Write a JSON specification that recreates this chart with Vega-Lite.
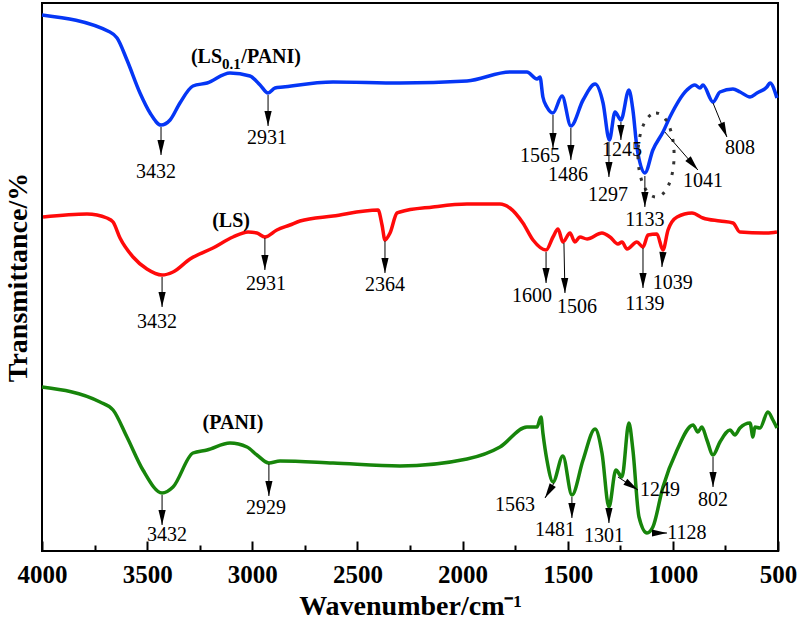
{
  "$schema": "https://vega.github.io/schema/vega-lite/v6.json",
  "width": 736,
  "height": 548,
  "autosize": "none",
  "padding": {"left": 42, "top": 3, "right": 21, "bottom": 68},
  "background": "white",
  "config": {
    "font": "Liberation Serif",
    "view": {"stroke": "#000", "strokeWidth": 2}
  },
  "datasets": {
    "spectra": [
      {"s": "LS0.1/PANI", "wn": 4000, "t": 536}, {"s": "LS0.1/PANI", "wn": 3677, "t": 519}, {"s": "LS0.1/PANI", "wn": 3643, "t": 513},
      {"s": "LS0.1/PANI", "wn": 3596, "t": 491}, {"s": "LS0.1/PANI", "wn": 3534, "t": 458}, {"s": "LS0.1/PANI", "wn": 3486, "t": 438},
      {"s": "LS0.1/PANI", "wn": 3434, "t": 426}, {"s": "LS0.1/PANI", "wn": 3391, "t": 431}, {"s": "LS0.1/PANI", "wn": 3344, "t": 448},
      {"s": "LS0.1/PANI", "wn": 3282, "t": 465}, {"s": "LS0.1/PANI", "wn": 3215, "t": 468}, {"s": "LS0.1/PANI", "wn": 3106, "t": 478},
      {"s": "LS0.1/PANI", "wn": 3011, "t": 475}, {"s": "LS0.1/PANI", "wn": 2963, "t": 466}, {"s": "LS0.1/PANI", "wn": 2925, "t": 458},
      {"s": "LS0.1/PANI", "wn": 2892, "t": 463}, {"s": "LS0.1/PANI", "wn": 2854, "t": 464}, {"s": "LS0.1/PANI", "wn": 2616, "t": 469},
      {"s": "LS0.1/PANI", "wn": 2298, "t": 468}, {"s": "LS0.1/PANI", "wn": 1979, "t": 470}, {"s": "LS0.1/PANI", "wn": 1775, "t": 479},
      {"s": "LS0.1/PANI", "wn": 1694, "t": 479}, {"s": "LS0.1/PANI", "wn": 1646, "t": 472}, {"s": "LS0.1/PANI", "wn": 1632, "t": 474},
      {"s": "LS0.1/PANI", "wn": 1618, "t": 454}, {"s": "LS0.1/PANI", "wn": 1599, "t": 444}, {"s": "LS0.1/PANI", "wn": 1570, "t": 438},
      {"s": "LS0.1/PANI", "wn": 1527, "t": 455}, {"s": "LS0.1/PANI", "wn": 1485, "t": 425}, {"s": "LS0.1/PANI", "wn": 1427, "t": 451},
      {"s": "LS0.1/PANI", "wn": 1370, "t": 467}, {"s": "LS0.1/PANI", "wn": 1332, "t": 448}, {"s": "LS0.1/PANI", "wn": 1302, "t": 411},
      {"s": "LS0.1/PANI", "wn": 1275, "t": 439}, {"s": "LS0.1/PANI", "wn": 1247, "t": 431}, {"s": "LS0.1/PANI", "wn": 1209, "t": 461},
      {"s": "LS0.1/PANI", "wn": 1190, "t": 441}, {"s": "LS0.1/PANI", "wn": 1171, "t": 404}, {"s": "LS0.1/PANI", "wn": 1133, "t": 378},
      {"s": "LS0.1/PANI", "wn": 1095, "t": 401}, {"s": "LS0.1/PANI", "wn": 1047, "t": 419}, {"s": "LS0.1/PANI", "wn": 1014, "t": 434},
      {"s": "LS0.1/PANI", "wn": 933, "t": 461}, {"s": "LS0.1/PANI", "wn": 895, "t": 466}, {"s": "LS0.1/PANI", "wn": 871, "t": 463},
      {"s": "LS0.1/PANI", "wn": 857, "t": 466}, {"s": "LS0.1/PANI", "wn": 809, "t": 449}, {"s": "LS0.1/PANI", "wn": 776, "t": 459},
      {"s": "LS0.1/PANI", "wn": 714, "t": 462}, {"s": "LS0.1/PANI", "wn": 680, "t": 459}, {"s": "LS0.1/PANI", "wn": 633, "t": 454},
      {"s": "LS0.1/PANI", "wn": 600, "t": 458}, {"s": "LS0.1/PANI", "wn": 553, "t": 464}, {"s": "LS0.1/PANI", "wn": 538, "t": 468},
      {"s": "LS0.1/PANI", "wn": 505, "t": 453},

      {"s": "LS", "wn": 3995, "t": 334}, {"s": "LS", "wn": 3786, "t": 337}, {"s": "LS", "wn": 3691, "t": 333},
      {"s": "LS", "wn": 3662, "t": 329}, {"s": "LS", "wn": 3629, "t": 313}, {"s": "LS", "wn": 3567, "t": 294},
      {"s": "LS", "wn": 3501, "t": 282}, {"s": "LS", "wn": 3429, "t": 276}, {"s": "LS", "wn": 3377, "t": 279},
      {"s": "LS", "wn": 3296, "t": 292}, {"s": "LS", "wn": 3187, "t": 303}, {"s": "LS", "wn": 3092, "t": 314},
      {"s": "LS", "wn": 3020, "t": 319}, {"s": "LS", "wn": 2978, "t": 318}, {"s": "LS", "wn": 2940, "t": 314},
      {"s": "LS", "wn": 2883, "t": 321}, {"s": "LS", "wn": 2821, "t": 326}, {"s": "LS", "wn": 2773, "t": 330},
      {"s": "LS", "wn": 2616, "t": 335}, {"s": "LS", "wn": 2402, "t": 341}, {"s": "LS", "wn": 2383, "t": 326},
      {"s": "LS", "wn": 2369, "t": 311}, {"s": "LS", "wn": 2345, "t": 318}, {"s": "LS", "wn": 2312, "t": 338},
      {"s": "LS", "wn": 2298, "t": 339}, {"s": "LS", "wn": 2141, "t": 344}, {"s": "LS", "wn": 1979, "t": 347},
      {"s": "LS", "wn": 1822, "t": 347}, {"s": "LS", "wn": 1775, "t": 343}, {"s": "LS", "wn": 1713, "t": 328},
      {"s": "LS", "wn": 1665, "t": 311}, {"s": "LS", "wn": 1603, "t": 301}, {"s": "LS", "wn": 1570, "t": 314},
      {"s": "LS", "wn": 1546, "t": 322}, {"s": "LS", "wn": 1523, "t": 309}, {"s": "LS", "wn": 1489, "t": 318},
      {"s": "LS", "wn": 1466, "t": 309}, {"s": "LS", "wn": 1442, "t": 314}, {"s": "LS", "wn": 1408, "t": 312},
      {"s": "LS", "wn": 1337, "t": 318}, {"s": "LS", "wn": 1299, "t": 314}, {"s": "LS", "wn": 1261, "t": 307},
      {"s": "LS", "wn": 1242, "t": 309}, {"s": "LS", "wn": 1218, "t": 302}, {"s": "LS", "wn": 1171, "t": 309},
      {"s": "LS", "wn": 1142, "t": 304}, {"s": "LS", "wn": 1118, "t": 316}, {"s": "LS", "wn": 1076, "t": 317},
      {"s": "LS", "wn": 1047, "t": 301}, {"s": "LS", "wn": 1023, "t": 321}, {"s": "LS", "wn": 980, "t": 334},
      {"s": "LS", "wn": 909, "t": 338}, {"s": "LS", "wn": 857, "t": 333}, {"s": "LS", "wn": 776, "t": 330},
      {"s": "LS", "wn": 714, "t": 328}, {"s": "LS", "wn": 681, "t": 319}, {"s": "LS", "wn": 553, "t": 318},
      {"s": "LS", "wn": 505, "t": 319},

      {"s": "PANI", "wn": 4000, "t": 164}, {"s": "PANI", "wn": 3724, "t": 149}, {"s": "PANI", "wn": 3662, "t": 141},
      {"s": "PANI", "wn": 3596, "t": 114}, {"s": "PANI", "wn": 3520, "t": 81}, {"s": "PANI", "wn": 3429, "t": 58},
      {"s": "PANI", "wn": 3377, "t": 64}, {"s": "PANI", "wn": 3282, "t": 98}, {"s": "PANI", "wn": 3215, "t": 101},
      {"s": "PANI", "wn": 3106, "t": 108}, {"s": "PANI", "wn": 3025, "t": 104}, {"s": "PANI", "wn": 2978, "t": 96},
      {"s": "PANI", "wn": 2921, "t": 88}, {"s": "PANI", "wn": 2868, "t": 90}, {"s": "PANI", "wn": 2616, "t": 88},
      {"s": "PANI", "wn": 2298, "t": 85}, {"s": "PANI", "wn": 1979, "t": 92}, {"s": "PANI", "wn": 1822, "t": 104},
      {"s": "PANI", "wn": 1694, "t": 124}, {"s": "PANI", "wn": 1646, "t": 124}, {"s": "PANI", "wn": 1627, "t": 134},
      {"s": "PANI", "wn": 1618, "t": 118}, {"s": "PANI", "wn": 1599, "t": 91}, {"s": "PANI", "wn": 1570, "t": 69},
      {"s": "PANI", "wn": 1523, "t": 95}, {"s": "PANI", "wn": 1480, "t": 56}, {"s": "PANI", "wn": 1427, "t": 91},
      {"s": "PANI", "wn": 1370, "t": 122}, {"s": "PANI", "wn": 1337, "t": 98}, {"s": "PANI", "wn": 1304, "t": 44},
      {"s": "PANI", "wn": 1271, "t": 81}, {"s": "PANI", "wn": 1242, "t": 74}, {"s": "PANI", "wn": 1209, "t": 128},
      {"s": "PANI", "wn": 1190, "t": 101}, {"s": "PANI", "wn": 1161, "t": 34}, {"s": "PANI", "wn": 1123, "t": 18},
      {"s": "PANI", "wn": 1095, "t": 24}, {"s": "PANI", "wn": 1047, "t": 64}, {"s": "PANI", "wn": 980, "t": 101},
      {"s": "PANI", "wn": 904, "t": 126}, {"s": "PANI", "wn": 881, "t": 119}, {"s": "PANI", "wn": 862, "t": 124},
      {"s": "PANI", "wn": 838, "t": 111}, {"s": "PANI", "wn": 809, "t": 96}, {"s": "PANI", "wn": 776, "t": 109},
      {"s": "PANI", "wn": 728, "t": 121}, {"s": "PANI", "wn": 705, "t": 116}, {"s": "PANI", "wn": 681, "t": 123},
      {"s": "PANI", "wn": 633, "t": 128}, {"s": "PANI", "wn": 619, "t": 114}, {"s": "PANI", "wn": 610, "t": 124},
      {"s": "PANI", "wn": 586, "t": 123}, {"s": "PANI", "wn": 548, "t": 139}, {"s": "PANI", "wn": 524, "t": 131},
      {"s": "PANI", "wn": 505, "t": 123}
    ],
    "arrows": [
      {"label": "3432", "wn1": 3434, "t1": 424, "wn2": 3434, "t2": 396, "lwn": 3458, "lt": 379},
      {"label": "2931", "wn1": 2925, "t1": 456, "wn2": 2925, "t2": 425, "lwn": 2930, "lt": 413},
      {"label": "1565", "wn1": 1570, "t1": 436, "wn2": 1570, "t2": 403, "lwn": 1632, "lt": 395},
      {"label": "1486", "wn1": 1485, "t1": 423, "wn2": 1485, "t2": 391, "lwn": 1499, "lt": 376},
      {"label": "1297", "wn1": 1304, "t1": 409, "wn2": 1304, "t2": 374, "lwn": 1309, "lt": 356},
      {"label": "1245", "wn1": 1247, "t1": 429, "wn2": 1247, "t2": 411, "lwn": 1242, "lt": 401},
      {"label": "1133", "wn1": 1133, "t1": 375, "wn2": 1133, "t2": 344, "lwn": 1133, "lt": 331},
      {"label": "1041", "wn1": 1038, "t1": 419, "wn2": 881, "t2": 381, "lwn": 857, "lt": 370},
      {"label": "808", "wn1": 809, "t1": 448, "wn2": 743, "t2": 414, "lwn": 681, "lt": 403},
      {"label": "3432", "wn1": 3429, "t1": 274, "wn2": 3429, "t2": 244, "lwn": 3453, "lt": 229},
      {"label": "2931", "wn1": 2940, "t1": 313, "wn2": 2940, "t2": 281, "lwn": 2935, "lt": 267},
      {"label": "2364", "wn1": 2369, "t1": 310, "wn2": 2369, "t2": 278, "lwn": 2369, "lt": 266},
      {"label": "1600", "wn1": 1603, "t1": 299, "wn2": 1603, "t2": 268, "lwn": 1670, "lt": 255},
      {"label": "1506", "wn1": 1518, "t1": 308, "wn2": 1513, "t2": 258, "lwn": 1456, "lt": 244},
      {"label": "1139", "wn1": 1142, "t1": 303, "wn2": 1142, "t2": 263, "lwn": 1133, "lt": 247},
      {"label": "1039", "wn1": 1047, "t1": 299, "wn2": 1052, "t2": 284, "lwn": 1000, "lt": 268},
      {"label": "3432", "wn1": 3429, "t1": 56, "wn2": 3429, "t2": 26, "lwn": 3406, "lt": 16},
      {"label": "2929", "wn1": 2921, "t1": 87, "wn2": 2921, "t2": 55, "lwn": 2935, "lt": 43},
      {"label": "1563", "wn1": 1565, "t1": 68, "wn2": 1608, "t2": 53, "lwn": 1751, "lt": 46},
      {"label": "1481", "wn1": 1480, "t1": 54, "wn2": 1480, "t2": 33, "lwn": 1561, "lt": 21},
      {"label": "1301", "wn1": 1304, "t1": 43, "wn2": 1304, "t2": 28, "lwn": 1328, "lt": 15},
      {"label": "1249", "wn1": 1261, "t1": 74, "wn2": 1166, "t2": 61, "lwn": 1061, "lt": 61},
      {"label": "1128", "wn1": 1095, "t1": 18, "wn2": 1028, "t2": 18, "lwn": 933, "lt": 18},
      {"label": "802", "wn1": 809, "t1": 94, "wn2": 809, "t2": 64, "lwn": 809, "lt": 51}
    ],
    "names": [
      {"text": "(LS", "wn": 3144, "t": 494, "part": "a"},
      {"text": "0.1", "wn": 3144, "t": 487, "part": "sub"},
      {"text": "/PANI)", "wn": 3052, "t": 494, "part": "b"},
      {"text": "(LS)", "wn": 3101, "t": 330, "part": "c"},
      {"text": "(PANI)", "wn": 3092, "t": 128, "part": "c"}
    ],
    "ellipse": [{"wn": 1080, "t": 396}]
  },
  "encoding": {
    "x": {
      "field": "wn", "type": "quantitative",
      "scale": {"domain": [500, 4000], "reverse": true, "nice": false, "zero": false},
      "axis": {
        "title": "Wavenumber/cm⁻¹",
        "values": [4000, 3750, 3500, 3250, 3000, 2750, 2500, 2250, 2000, 1750, 1500, 1250, 1000, 750, 500],
        "format": "d",
        "labelExpr": "datum.value % 500 === 0 ? datum.label : ''",
        "grid": false, "domain": false,
        "tickSize": {"condition": {"test": "datum.value % 500 === 0", "value": -10}, "value": -6},
        "tickWidth": 2, "tickColor": "#000",
        "labelPadding": 21, "labelFontSize": 25, "labelFontWeight": "bold", "labelColor": "#000",
        "labelFont": "Liberation Serif", "labelOverlap": false, "labelFlush": false,
        "titleFontSize": 28, "titleFontWeight": "bold", "titleColor": "#000", "titleFont": "Liberation Serif",
        "titlePadding": 1
      }
    },
    "y": {
      "field": "t", "type": "quantitative",
      "scale": {"domain": [0, 548], "nice": false, "zero": false},
      "axis": {
        "title": "Transmittance/%",
        "grid": false, "domain": false, "ticks": false, "labels": false,
        "titleFontSize": 28, "titleFontWeight": "bold", "titleColor": "#000", "titleFont": "Liberation Serif",
        "titlePadding": 10
      }
    }
  },
  "layer": [
    {
      "data": {"name": "spectra"},
      "mark": {"type": "line", "strokeWidth": 3.5, "interpolate": "monotone"},
      "encoding": {
        "color": {
          "field": "s", "type": "nominal", "legend": null,
          "scale": {"domain": ["LS0.1/PANI", "LS", "PANI"], "range": ["#0536f5", "#ff0a0a", "#17850b"]}
        }
      }
    },
    {
      "data": {"name": "ellipse"},
      "mark": {
        "type": "point", "filled": false, "fill": null, "stroke": "#333", "strokeWidth": 3,
        "strokeDash": [3, 8], "opacity": 1, "size": 7056,
        "shape": "M0,-1 C0.2375,-1 0.43,-0.5523 0.43,0 C0.43,0.5523 0.2375,1 0,1 C-0.2375,1 -0.43,0.5523 -0.43,0 C-0.43,-0.5523 -0.2375,-1 0,-1 Z"
      },
      "encoding": {}
    },
    {
      "data": {"name": "arrows"},
      "mark": {"type": "rule", "color": "#000", "strokeWidth": 1},
      "encoding": {
        "x": {"field": "wn1", "type": "quantitative"},
        "x2": {"field": "wn2"},
        "y": {"field": "t1", "type": "quantitative"},
        "y2": {"field": "t2"}
      }
    },
    {
      "data": {"name": "arrows"},
      "transform": [
        {"calculate": "(atan2((datum.wn2 - datum.wn1) * 736 / 3500, datum.t1 - datum.t2) * 180 / PI + 360) % 360", "as": "ang"}
      ],
      "mark": {
        "type": "point", "filled": true, "color": "#000", "opacity": 1, "size": 900,
        "shape": "M0,0 L0.24,-1 L-0.24,-1 Z", "strokeWidth": 0
      },
      "encoding": {
        "x": {"field": "wn2", "type": "quantitative"},
        "y": {"field": "t2", "type": "quantitative"},
        "angle": {"field": "ang", "type": "quantitative", "scale": null}
      }
    },
    {
      "data": {"name": "arrows"},
      "mark": {"type": "text", "font": "Liberation Serif", "fontSize": 20, "color": "#000", "baseline": "middle", "align": "center"},
      "encoding": {
        "x": {"field": "lwn", "type": "quantitative"},
        "y": {"field": "lt", "type": "quantitative"},
        "text": {"field": "label"}
      }
    },
    {
      "data": {"name": "names"},
      "transform": [{"filter": "datum.part === 'a'"}],
      "mark": {"type": "text", "font": "Liberation Serif", "fontSize": 20, "fontWeight": "bold", "color": "#000", "baseline": "middle", "align": "right"},
      "encoding": {"text": {"field": "text"}}
    },
    {
      "data": {"name": "names"},
      "transform": [{"filter": "datum.part === 'sub'"}],
      "mark": {"type": "text", "font": "Liberation Serif", "fontSize": 15, "fontWeight": "bold", "color": "#000", "baseline": "middle", "align": "left"},
      "encoding": {"text": {"field": "text"}}
    },
    {
      "data": {"name": "names"},
      "transform": [{"filter": "datum.part === 'b'"}],
      "mark": {"type": "text", "font": "Liberation Serif", "fontSize": 20, "fontWeight": "bold", "color": "#000", "baseline": "middle", "align": "left"},
      "encoding": {"text": {"field": "text"}}
    },
    {
      "data": {"name": "names"},
      "transform": [{"filter": "datum.part === 'c'"}],
      "mark": {"type": "text", "font": "Liberation Serif", "fontSize": 20, "fontWeight": "bold", "color": "#000", "baseline": "middle", "align": "center"},
      "encoding": {"text": {"field": "text"}}
    }
  ]
}
